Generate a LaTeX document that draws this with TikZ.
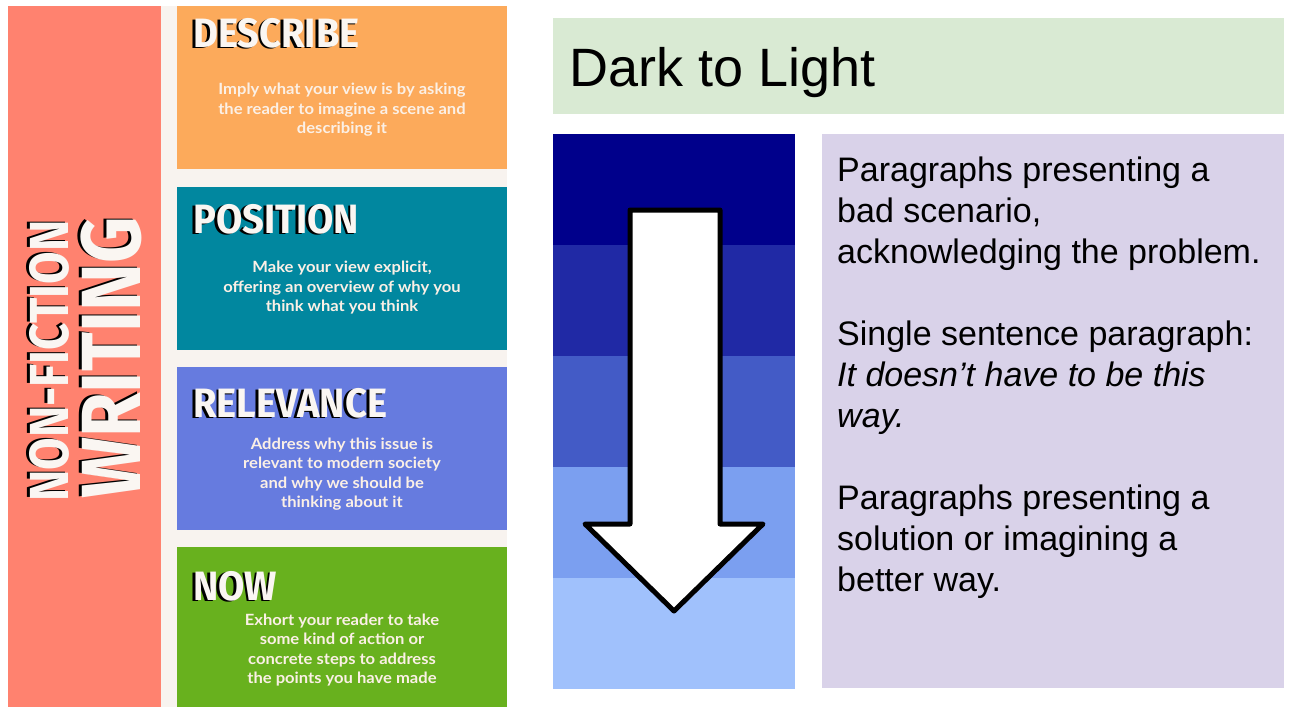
\documentclass[tikz,border=0pt]{standalone}
\usepackage{fontspec}
\setmainfont{Liberation Sans}
\newfontfamily\headfont{Fira Sans}[FakeStretch=0.93]
\newfontfamily\sidefont{Fira Sans}[FakeStretch=0.86]
\newfontfamily\bodyfont{Lato}[FakeStretch=1.07]
\usepackage{tikz}
\usepackage{xcolor}

\definecolor{salmon}{HTML}{FF826F}
\definecolor{cream}{HTML}{F8F3EF}
\definecolor{describecol}{HTML}{FCAA5B}
\definecolor{positioncol}{HTML}{01879F}
\definecolor{relevancecol}{HTML}{667BDF}
\definecolor{nowcol}{HTML}{68B11E}
\definecolor{headwhite}{HTML}{FAF6F2}
\definecolor{creamtext}{HTML}{FBF0E6}
\definecolor{titlegreen}{HTML}{D9EAD3}
\definecolor{lavender}{HTML}{D9D2E9}
\definecolor{bandA}{HTML}{00008B}
\definecolor{bandB}{HTML}{2029A5}
\definecolor{bandC}{HTML}{435BC6}
\definecolor{bandD}{HTML}{7B9FF0}
\definecolor{bandE}{HTML}{A0C1FC}

% white letters with a black shadow
\newcommand{\headshade}[1]{\rlap{\kern-2.5pt\raisebox{-1pt}{\textcolor{black}{#1}}}#1}
\newcommand{\sideshade}[1]{\rlap{\kern1pt\raisebox{2.5pt}{\textcolor{black}{#1}}}#1}

\begin{document}
\begin{tikzpicture}[x=1pt,y=-1pt,
  heading/.style={anchor=base west, inner sep=0pt, text=headwhite,
    font=\headfont\bfseries\fontsize{41}{41}\selectfont},
  blurb/.style={align=center, inner sep=0pt, text=creamtext,
    font=\bodyfont\bfseries\fontsize{15.5}{19.5}\selectfont},
  sidetitle/.style={rotate=90, anchor=base, inner sep=0pt, text=headwhite}]
\fill[white] (0,0) rectangle (1292,707);
\useasboundingbox (0,0) rectangle (1292,707);

% Draw the left panel
\fill[salmon] (8,6) rectangle (161,707);
\fill[cream] (161,6) rectangle (507,707);
\fill[describecol] (177,6) rectangle (507,169);
\fill[positioncol] (177,187) rectangle (507,350);
\fill[relevancecol] (177,367) rectangle (507,530);
\fill[nowcol] (177,547) rectangle (507,707);

% Rotated title
\node[sidetitle, font=\sidefont\bfseries\fontsize{55}{55}\selectfont] (nonfiction) at (68,361) {\sideshade{NON-FICTION}};
\node[sidetitle, font=\sidefont\bfseries\fontsize{84}{84}\selectfont] (writing) at (140,358) {\sideshade{WRITING}};

% Headings and text of the four boxes
\node[heading] (describe) at (193,47) {\headshade{DESCRIBE}};
\node[blurb] (describetxt) at (342,110) {Imply what your view is by asking\\the reader to imagine a scene and\\describing it};

\node[heading] (position) at (193,233) {\headshade{POSITION}};
\node[blurb] (positiontxt) at (342,288) {Make your view explicit,\\offering an overview of why you\\think what you think};

\node[heading] (relevance) at (193,417) {\headshade{RELEVANCE}};
\node[blurb] (relevancetxt) at (342,474) {Address why this issue is\\relevant to modern society\\and why we should be\\thinking about it};

\node[heading] (now) at (193,600) {\headshade{NOW}};
\node[blurb] (nowtxt) at (342,650) {Exhort your reader to take\\some kind of action or\\concrete steps to address\\the points you have made};

% Title bar
\fill[titlegreen] (553,18) rectangle (1284,114);
\node[anchor=base west, inner sep=0pt, font=\fontsize{54}{60}\selectfont] (title) at (569,86) {Dark to Light};

% Bands from dark to light
\foreach \c [count=\i from 0] in {bandA,bandB,bandC,bandD,bandE}
  \fill[\c] (553,134+111*\i) rectangle (795,245+111*\i);

% Big arrow
\draw[line width=5pt, line join=round, fill=white] (630,210) -- (720,210) -- (720,524) -- (763,524)
  -- (674,611) -- (585,524) -- (630,524) -- cycle;

% Paragraph notes
\fill[lavender] (822,134) rectangle (1284,688);
\node[anchor=north west, align=left, inner sep=0pt, font=\fontsize{34}{41}\selectfont] (notes) at (837,157)
  {Paragraphs presenting a\\bad scenario,\\acknowledging the problem.\\[41pt]
   Single sentence paragraph:\\\textit{It doesn’t have to be this}\\\textit{way.}\\[41pt]
   Paragraphs presenting a\\solution or imagining a\\better way.};
\end{tikzpicture}
\end{document}
